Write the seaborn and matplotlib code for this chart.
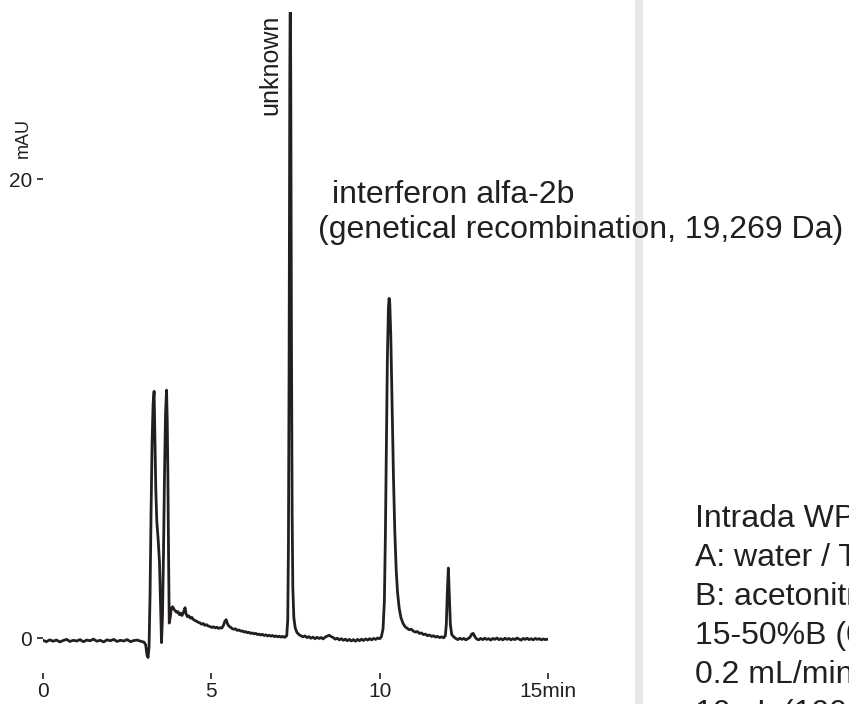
import matplotlib
matplotlib.use("Agg")
import matplotlib.pyplot as plt
import numpy as np
import pandas as pd
import seaborn as sns
from matplotlib.patches import Rectangle

# ---------------- data ----------------
# baseline before injection
pre_t = [0.00, 0.10, 0.20, 0.30, 0.40, 0.50, 0.60, 0.70, 0.80, 0.90, 1.00, 1.10, 1.20, 1.30, 1.40,
         1.50, 1.60, 1.70, 1.80, 1.90, 2.00, 2.10, 2.20, 2.30, 2.40, 2.50, 2.60, 2.70, 2.80, 2.90, 3.00]
pre_y = [-0.10, -0.16, -0.08, -0.14, -0.09, -0.17, -0.11, -0.06, -0.15, -0.10, -0.13, -0.07, -0.16, -0.09, -0.12,
         -0.05, -0.14, -0.10, -0.17, -0.08, -0.12, -0.06, -0.15, -0.10, -0.13, -0.07, -0.16, -0.11, -0.09, -0.14, -0.18]

# void dip, two early peaks and the drifting baseline
early_t = [3.05, 3.09, 3.12, 3.15, 3.18, 3.21, 3.24, 3.27, 3.30, 3.32, 3.35, 3.38, 3.42, 3.46, 3.49, 3.52,
           3.55, 3.58, 3.61, 3.64, 3.67, 3.69, 3.71, 3.73, 3.75, 3.78, 3.81, 3.85, 3.89, 3.93, 3.97, 4.01,
           4.05, 4.09, 4.13, 4.18, 4.22, 4.25, 4.29, 4.33, 4.38, 4.42, 4.47, 4.52, 4.57, 4.62, 4.66, 4.71,
           4.76, 4.81, 4.86, 4.91, 4.96, 5.01, 5.06, 5.11, 5.16, 5.21, 5.26, 5.31, 5.36, 5.40, 5.44, 5.48,
           5.52, 5.57, 5.62, 5.67, 5.72, 5.77, 5.82, 5.87, 5.92, 5.97, 6.02, 6.07, 6.12, 6.17, 6.22, 6.27,
           6.32, 6.37, 6.42, 6.47, 6.52, 6.57, 6.62, 6.67, 6.72, 6.77, 6.82, 6.87, 6.92, 6.97, 7.02, 7.07,
           7.12, 7.17, 7.21, 7.24]
early_y = [-0.30, -0.75, -0.85, -0.40, 1.90, 5.50, 8.50, 10.20, 10.75, 9.00, 6.50, 5.10, 4.30, 3.30, 1.50, -0.20,
           1.00, 3.80, 7.20, 9.80, 10.80, 9.50, 7.00, 3.50, 0.65, 0.90, 1.30, 1.36, 1.25, 1.18, 1.12, 1.15,
           1.02, 1.08, 0.98, 1.15, 1.32, 1.05, 0.93, 0.97, 0.86, 0.90, 0.80, 0.76, 0.72, 0.68, 0.66, 0.60,
           0.63, 0.55, 0.58, 0.52, 0.50, 0.46, 0.49, 0.44, 0.47, 0.42, 0.45, 0.43, 0.55, 0.72, 0.80, 0.62,
           0.52, 0.47, 0.41, 0.38, 0.40, 0.33, 0.35, 0.30, 0.31, 0.26, 0.28, 0.23, 0.25, 0.20, 0.22, 0.18,
           0.20, 0.15, 0.17, 0.13, 0.16, 0.11, 0.14, 0.09, 0.12, 0.08, 0.11, 0.06, 0.09, 0.05, 0.08, 0.04,
           0.07, 0.03, 0.06, 0.10]

# "unknown" peak and the baseline up to interferon
unk_t = [7.27, 7.29, 7.31, 7.33, 7.345, 7.36, 7.38, 7.40, 7.42, 7.45, 7.49, 7.54, 7.60, 7.66,
         7.72, 7.78, 7.84, 7.90, 7.96, 8.02, 8.08, 8.14, 8.20, 8.26, 8.32, 8.38, 8.44, 8.50, 8.56, 8.62,
         8.68, 8.74, 8.80, 8.86, 8.92, 8.98, 9.04, 9.10, 9.16, 9.22, 9.28, 9.34, 9.40, 9.46, 9.52, 9.58,
         9.64, 9.70, 9.76, 9.82, 9.88, 9.94, 10.00, 10.05]
unk_y = [0.80, 4.00, 12.00, 24.00, 29.00, 24.00, 13.00, 5.50, 2.20, 0.90, 0.45, 0.25, 0.15, 0.10,
         0.05, 0.09, 0.02, 0.06, -0.01, 0.04, -0.03, 0.03, -0.02, 0.02, -0.04, 0.04, 0.08, 0.12, 0.06, 0.02,
         -0.05, -0.01, -0.08, -0.03, -0.10, -0.05, -0.12, -0.06, -0.13, -0.07, -0.14, -0.06, -0.12, -0.05, -0.11, -0.04,
         -0.09, -0.03, -0.08, -0.02, -0.06, 0.00, -0.03, 0.05]

# interferon alfa-2b peak with its tail
ifn_t = [10.10, 10.14, 10.17, 10.20, 10.23, 10.26, 10.28, 10.30, 10.33, 10.37, 10.41, 10.45, 10.49, 10.53,
         10.58, 10.63, 10.69, 10.75, 10.82, 10.88, 10.94, 11.00, 11.06, 11.12, 11.18, 11.24, 11.30, 11.36,
         11.42, 11.48, 11.54, 11.60, 11.66, 11.72, 11.78, 11.84, 11.90, 11.95]
ifn_y = [0.40, 1.60, 4.50, 8.50, 12.30, 14.40, 14.80, 14.60, 13.20, 10.20, 7.00, 4.60, 3.00, 2.00,
         1.30, 0.90, 0.65, 0.50, 0.42, 0.36, 0.38, 0.30, 0.26, 0.28, 0.20, 0.22, 0.15, 0.17,
         0.10, 0.13, 0.07, 0.10, 0.04, 0.07, 0.02, 0.05, 0.01, 0.10]

# small late peak and final baseline
late_t = [11.98, 12.01, 12.04, 12.07, 12.10, 12.14, 12.20, 12.26, 12.32, 12.38, 12.44, 12.50, 12.56, 12.62,
          12.68, 12.74, 12.78, 12.83, 12.88, 12.94, 13.00, 13.06, 13.12, 13.18, 13.24, 13.30, 13.36, 13.42,
          13.48, 13.54, 13.60, 13.66, 13.72, 13.78, 13.84, 13.90, 13.96, 14.02, 14.08, 14.14, 14.20, 14.26,
          14.32, 14.38, 14.44, 14.50, 14.56, 14.62, 14.68, 14.74, 14.80, 14.86, 14.92, 15.00]
late_y = [0.60, 2.00, 3.05, 1.80, 0.60, 0.15, 0.05, -0.02, -0.07, -0.01, -0.06, -0.02, -0.08, -0.03,
          0.03, 0.18, 0.20, 0.05, -0.04, -0.08, -0.02, -0.07, -0.01, -0.06, -0.03, -0.09, -0.02, -0.06,
          0.00, -0.07, -0.03, -0.08, -0.01, -0.06, -0.02, -0.08, -0.03, -0.07, 0.00, -0.05, -0.09, -0.02,
          -0.06, -0.01, -0.07, -0.03, -0.08, -0.02, -0.06, -0.03, -0.08, -0.04, -0.07, -0.05]

x_ticks = [0, 5, 10, 15]
x_tick_labels = ["0", "5", "10", "15min"]
y_ticks = [0, 20]
y_tick_labels = ["0", "20"]

peak_label_unknown = "unknown"
peak_label_ifn = ["interferon alfa-2b", "(genetical recombination, 19,269 Da)"]
conditions = ["Intrada WP-RP (50 x 2 mm)",
              "A: water / TFA = 100 / 0.1",
              "B: acetonitrile / TFA = 100 / 0.1",
              "15-50%B (0-15 min)",
              "0.2 mL/min",
              "10 uL (100 ng)"]

# ---------------- figure ----------------
sns.set_theme(style="white")
plt.rcParams['font.family'] = ['Liberation Sans', 'DejaVu Sans']

INK = "#231f20"
W, H = 849, 704
fig = plt.figure(figsize=(W / 100, H / 100), dpi=100)
fig.patch.set_facecolor("white")

# light grey separator bar
fig.add_artist(Rectangle((635 / W, 0), 8 / W, 1, transform=fig.transFigure,
                         facecolor="#e6e7e9", edgecolor="none", zorder=0))

ax = fig.add_axes([43 / W, 1 - 673 / H, 505 / W, (673 - 12) / H])
ax.set_facecolor("none")

df = pd.DataFrame({
    "time": pre_t + early_t + unk_t + ifn_t + late_t,
    "mAU": pre_y + early_y + unk_y + ifn_y + late_y,
})
sns.lineplot(data=df, x="time", y="mAU", ax=ax, color=INK, linewidth=2.0,
             estimator=None, sort=False)

ax.set_xlim(0, 15)
ax.set_ylim(-1.525, 27.28)
ax.set_xticks(x_ticks)
ax.set_xticklabels(x_tick_labels)
ax.set_yticks(y_ticks)
ax.set_yticklabels(y_tick_labels)
ax.set_xlabel("")
ax.set_ylabel("")
ax.tick_params(axis="both", which="both", direction="out", length=4.3, width=1.2,
               color=INK, labelcolor=INK, labelsize=15)
ax.tick_params(axis="x", pad=2.0, bottom=True)
ax.tick_params(axis="y", pad=3.4, left=True)
sns.despine(ax=ax, left=True, bottom=True)
ax.grid(False)

# texts
fig.text(23 / W, 1 - 138 / H, "mAU", rotation=90, ha="center", va="center",
         fontsize=13, color=INK)
fig.text(270.5 / W, 1 - 15 / H, peak_label_unknown, rotation=90, ha="center", va="top",
         fontsize=18, color=INK)
fig.text(332 / W, 1 - 203 / H, peak_label_ifn[0], ha="left", va="baseline",
         fontsize=23, color=INK, zorder=5)
fig.text(318 / W, 1 - 238 / H, peak_label_ifn[1], ha="left", va="baseline",
         fontsize=23, color=INK, zorder=5)
for i, line in enumerate(conditions):
    fig.text(695 / W, 1 - (527 + 39 * i) / H, line, ha="left", va="baseline",
             fontsize=23, color=INK, zorder=5)

fig.savefig("out.png", dpi=100)
